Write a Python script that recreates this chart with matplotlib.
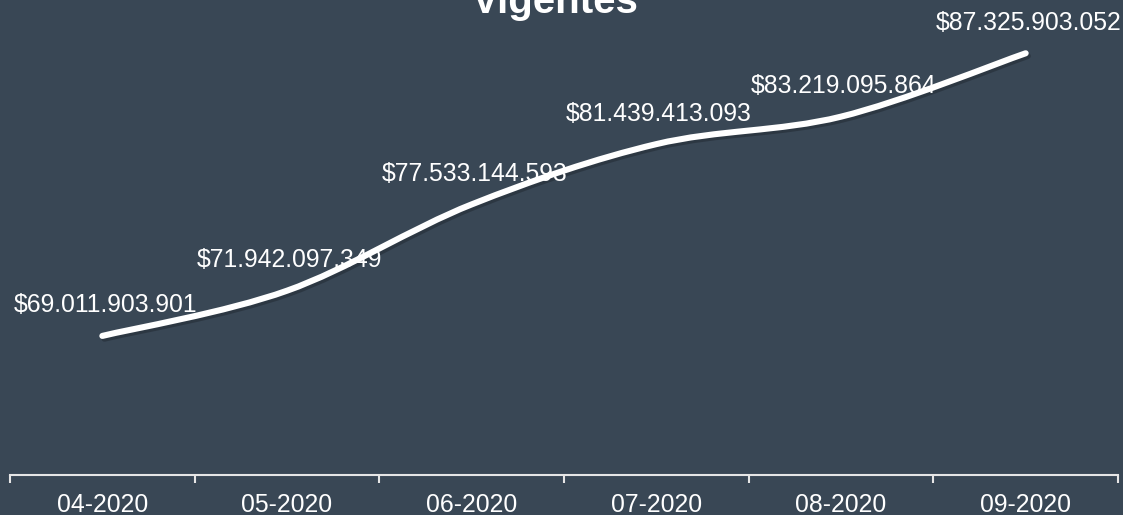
import numpy as np
import matplotlib.pyplot as plt
from matplotlib.path import Path
from matplotlib.patches import PathPatch
import matplotlib.patheffects as pe

plt.rcParams['font.family'] = ['Liberation Sans', 'DejaVu Sans']

# data
months = ['04-2020', '05-2020', '06-2020', '07-2020', '08-2020', '09-2020']
vigentes = [69011903901, 71942097349, 77533144593, 81439413093, 83219095864, 87325903052]

bg = '#394755'

def fmt(v):
    return '$' + '{:,}'.format(v).replace(',', '.')

fig = plt.figure(figsize=(11.23, 5.15), dpi=100, facecolor=bg)
ax = fig.add_axes([10/1123, 1 - 475/515, 1108/1123, (475 - 12)/515])
ax.set_facecolor(bg)

x = np.arange(len(months))
y = np.array(vigentes) / 1e9

# smooth line through the points (cubic bezier segments)
pts = list(zip(x, y))
verts = [pts[0]]
codes = [Path.MOVETO]
n = len(pts)
for i in range(n - 1):
    p0 = np.array(pts[max(i - 1, 0)])
    p1 = np.array(pts[i])
    p2 = np.array(pts[i + 1])
    p3 = np.array(pts[min(i + 2, n - 1)])
    c1 = p1 + (p2 - p0) / 6
    c2 = p2 - (p3 - p1) / 6
    verts += [tuple(c1), tuple(c2), tuple(p2)]
    codes += [Path.CURVE4] * 3
line = PathPatch(Path(verts, codes), facecolor='none', edgecolor='white', lw=4.4,
                 capstyle='round', transform=ax.transData,
                 path_effects=[pe.SimpleLineShadow(offset=(1.5, -2), shadow_color='black', alpha=0.22),
                               pe.Normal()])
ax.add_patch(line)

for xi, yi, v in zip(x, y, vigentes):
    ax.annotate(fmt(v), (xi, yi), xytext=(2, 22), textcoords='offset points',
                ha='center', va='center', color='white', fontsize=17.8)

ax.set_xlim(-0.5, len(months) - 0.5)
ax.set_ylim(60, 90)
ax.set_xticks(x)
ax.set_xticklabels(months)
ax.set_xticks(np.arange(-0.5, len(months), 1), minor=True)
ax.tick_params(axis='x', which='major', length=0, pad=13, labelsize=17.8, labelcolor='white')
ax.tick_params(axis='x', which='minor', length=6, width=1.5, color='#e6e6e6')
ax.set_yticks([])
for s in ['top', 'right', 'left']:
    ax.spines[s].set_visible(False)
ax.spines['bottom'].set_color('#e6e6e6')
ax.spines['bottom'].set_linewidth(1.5)

fig.text(555/1123, 1 - 13/515, 'Vigentes', ha='center', va='baseline',
         fontsize=29, fontweight='bold', color='white')

fig.savefig('out.png', dpi=100, facecolor=bg)
